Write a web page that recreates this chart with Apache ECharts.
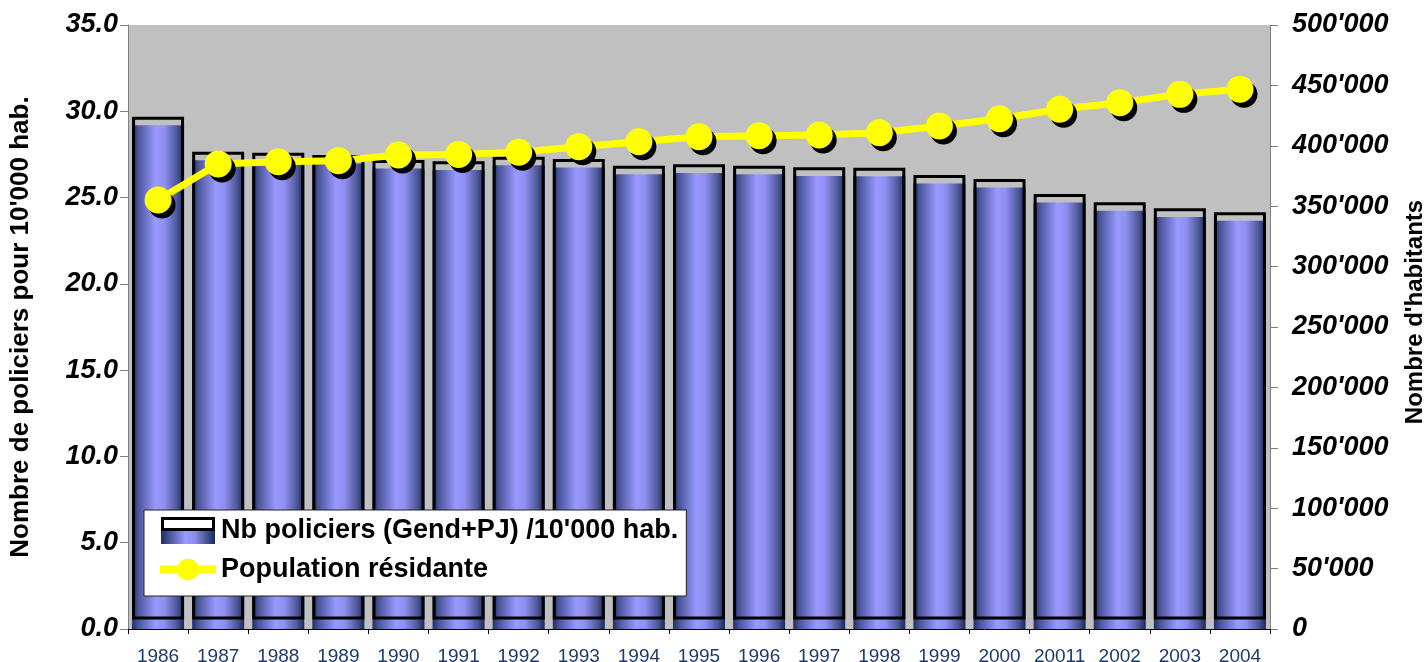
<!DOCTYPE html>
<html>
<head>
<meta charset="utf-8">
<script src="https://cdn.jsdelivr.net/npm/echarts@6/dist/echarts.min.js"></script>
<style>
  html, body { margin: 0; padding: 0; background: #fff; }
  #main { width: 1428px; height: 662px; }
</style>
</head>
<body>
<div id="main"></div>
<script>
// années (libellés de l'axe X)
var years = ['1986', '1987', '1988', '1989', '1990', '1991', '1992', '1993', '1994', '1995',
  '1996', '1997', '1998', '1999', '2000', '20011', '2002', '2003', '2004'];
// policiers pour 10'000 hab.
var policiers = [29.69, 27.66, 27.60, 27.47, 27.18, 27.10, 27.37, 27.24, 26.85, 26.93,
  26.85, 26.75, 26.73, 26.31, 26.08, 25.21, 24.73, 24.38, 24.15];
// population résidante
var population = [355100, 384900, 386800, 387700, 392400, 392900, 394600, 399300, 403400, 407500,
  408400, 408900, 410800, 416400, 422400, 430200, 435700, 442600, 446800];

var leftTicks = [0, 35, 5];
var rightTicks = [0, 500000, 50000];

var nameBars = "Nb policiers (Gend+PJ) /10'000 hab.";
var nameLine = 'Population résidante';

// effet "3D" excel : face avant en dégradé, contour décalé vers le haut
var depth = 0.5;
var base = 0.55;
var front = policiers.map(function (v) { return +(v - depth).toFixed(2); });
var baseData = policiers.map(function () { return base; });
var box = policiers.map(function (v) { return +(v - base).toFixed(2); });

var font = 'Arial, "Liberation Sans", sans-serif';

var blueGrad = new echarts.graphic.LinearGradient(0, 0, 1, 0, [
  { offset: 0, color: '#1c2f62' },
  { offset: 0.12, color: '#4a559a' },
  { offset: 0.45, color: '#9999ff' },
  { offset: 0.62, color: '#8f8ff0' },
  { offset: 0.86, color: '#4e5898' },
  { offset: 1, color: '#16295a' }
]);

// icone de légende : haut blanc cerclé de noir, bas en dégradé
var iconSvg = '<svg xmlns="http://www.w3.org/2000/svg" width="54" height="27" viewBox="0 0 54 27">' +
  '<defs><linearGradient id="g" x1="0" y1="0" x2="1" y2="0">' +
  '<stop offset="0" stop-color="#1c2f62"/><stop offset="0.45" stop-color="#9999ff"/>' +
  '<stop offset="0.62" stop-color="#8f8ff0"/><stop offset="1" stop-color="#16295a"/></linearGradient></defs>' +
  '<rect x="0" y="8" width="54" height="19" fill="url(#g)"/>' +
  '<rect x="1.5" y="1.5" width="51" height="11" fill="#fff" stroke="#000" stroke-width="3"/>' +
  '</svg>';
var barIcon = 'image://data:image/svg+xml;charset=utf-8,' + encodeURIComponent(iconSvg);

function fmtThousands(v) {
  return String(v).replace(/\B(?=(\d{3})+(?!\d))/g, "'");
}

var chart = echarts.init(document.getElementById('main'));
chart.setOption({
  animation: false,
  grid: {
    left: 128, right: 158, top: 25, bottom: 33,
    outerBoundsMode: 'none',
    containLabel: false,
    show: true, backgroundColor: '#c0c0c0', borderWidth: 0
  },
  legend: {
    data: [
      { name: nameBars, icon: barIcon },
      { name: nameLine, lineStyle: { width: 8, color: '#ffff00' }, itemStyle: { shadowOffsetX: 0, shadowOffsetY: 0 } }
    ],
    orient: 'vertical',
    left: 144, top: 510,
    backgroundColor: '#ffffff',
    borderColor: '#222',
    borderWidth: 1,
    padding: [7, 8, 13, 12],
    itemWidth: 56, itemHeight: 27, itemGap: 12,
    textStyle: { fontFamily: font, fontSize: 27, fontWeight: 'bold', color: '#000' }
  },
  xAxis: {
    type: 'category',
    data: years,
    axisLine: { lineStyle: { color: '#000', width: 1 } },
    axisTick: { show: true, length: 5, lineStyle: { color: '#000' } },
    axisLabel: { interval: 0, fontFamily: font, fontSize: 19, color: '#1f3a68', margin: 18 }
  },
  yAxis: [{
    type: 'value',
    min: leftTicks[0], max: leftTicks[1], interval: leftTicks[2],
    name: "Nombre de policiers pour 10'000 hab.",
    nameLocation: 'middle', nameRotate: 90, nameGap: 94,
    nameTextStyle: { fontFamily: font, fontSize: 26, fontWeight: 'bold', color: '#000' },
    axisLine: { show: true, lineStyle: { color: '#808080' } },
    axisTick: { show: true, length: 8, lineStyle: { color: '#808080' } },
    splitLine: { show: false },
    axisLabel: {
      fontFamily: font, fontSize: 27, fontWeight: 'bold', fontStyle: 'italic', color: '#000', margin: 10,
      formatter: function (v) { return v.toFixed(1); }
    }
  }, {
    type: 'value',
    min: rightTicks[0], max: rightTicks[1], interval: rightTicks[2],
    name: "Nombre d'habitants",
    nameLocation: 'middle', nameRotate: 90, nameGap: 133,
    nameTextStyle: { fontFamily: font, fontSize: 24, fontWeight: 'bold', color: '#000', padding: [0, 0, 0, 30] },
    axisLine: { show: true, lineStyle: { color: '#808080' } },
    axisTick: { show: true, length: 8, lineStyle: { color: '#808080' } },
    splitLine: { show: false },
    axisLabel: {
      fontFamily: font, fontSize: 27, fontWeight: 'bold', fontStyle: 'italic', color: '#000', margin: 22,
      formatter: fmtThousands
    }
  }],
  series: [{
    name: nameBars,
    type: 'bar',
    data: front,
    barWidth: 52,
    barGap: '-100%',
    silent: true,
    itemStyle: { color: blueGrad }
  }, {
    name: 'base',
    type: 'bar',
    stack: 'box',
    data: baseData,
    barWidth: 52,
    barGap: '-100%',
    silent: true,
    itemStyle: { color: 'transparent' }
  }, {
    name: 'contour',
    type: 'bar',
    stack: 'box',
    data: box,
    barWidth: 52,
    barGap: '-100%',
    silent: true,
    itemStyle: { color: 'transparent', borderColor: '#000', borderWidth: 3 }
  }, {
    name: nameLine,
    type: 'line',
    yAxisIndex: 1,
    data: population,
    symbol: 'circle',
    symbolSize: 27,
    silent: true,
    lineStyle: { color: '#ffff00', width: 7 },
    itemStyle: {
      color: '#ffff00',
      shadowColor: '#000', shadowBlur: 0, shadowOffsetX: 4, shadowOffsetY: 5
    },
    z: 5
  }]
});
</script>
</body>
</html>
